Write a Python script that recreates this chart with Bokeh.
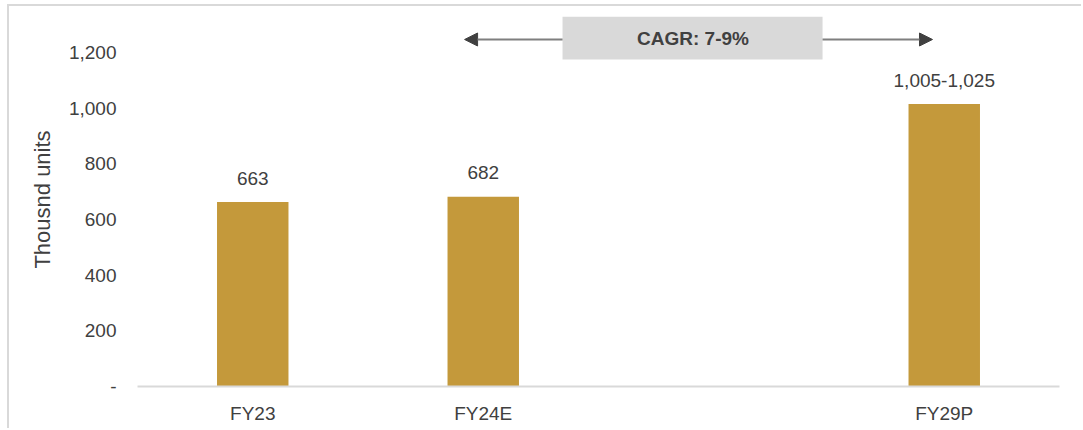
from bokeh.plotting import figure
from bokeh.models import (ColumnDataSource, FactorRange, Range1d, FixedTicker,
                          NumeralTickFormatter, BoxAnnotation, Label, Arrow, NormalHead)
from bokeh.core.properties import value
from bokeh.embed import file_html
from bokeh.resources import INLINE

# ---- data ----
categories = ["FY23", "FY24E", " ", "FY29P"]
bar_years = ["FY23", "FY24E", "FY29P"]
bar_values = [663, 682, 1015]
bar_labels = ["663", "682", "1,005-1,025"]
y_ticks = [0, 200, 400, 600, 800, 1000, 1200]
cagr_text = "CAGR: 7-9%"
y_title = "Thousnd units"

FONT = "Liberation Sans"
TXT = "#404040"
GOLD = "#C4993B"
GRAY = "#D9D9D9"

src = ColumnDataSource(dict(x=bar_years, top=bar_values, label=bar_labels))

p = figure(x_range=FactorRange(*categories, range_padding=0),
           y_range=Range1d(0, 1344),
           width=1074, height=424, output_backend="svg", toolbar_location=None,
           min_border_left=128, min_border_right=24, min_border_top=6, min_border_bottom=44)
p.styles = {"margin-left": "7px", "margin-top": "4px",
            "border-top": "2px solid #D9D9D9", "border-left": "2px solid #D9D9D9"}
p.outline_line_color = None
p.xgrid.grid_line_color = None
p.ygrid.grid_line_color = None

p.vbar(x="x", top="top", width=0.31, source=src, fill_color=GOLD, line_color=None)
p.text(x="x", y="top", text="label", source=src, text_align="center",
       text_baseline="middle", y_offset=-24, text_font=value(FONT),
       text_font_size="19px", text_color=TXT)

# axes
xa = p.xaxis[0]
xa.axis_line_color = GRAY
xa.axis_line_width = 2
xa.major_tick_line_color = None
xa.minor_tick_line_color = None
xa.major_tick_out = 0
xa.major_label_standoff = 16
xa.major_label_text_font = FONT
xa.major_label_text_font_size = "19px"
xa.major_label_text_color = TXT

ya = p.yaxis[0]
ya.ticker = FixedTicker(ticks=y_ticks)
ya.formatter = NumeralTickFormatter(format="0,0")
ya.major_label_overrides = {0: "-"}
ya.axis_line_color = None
ya.major_tick_line_color = None
ya.minor_tick_line_color = None
ya.major_tick_out = 0
ya.major_label_standoff = 21
ya.major_label_text_font = FONT
ya.major_label_text_font_size = "19px"
ya.major_label_text_color = TXT
ya.axis_label = y_title
ya.axis_label_text_font = FONT
ya.axis_label_text_font_size = "22px"
ya.axis_label_text_font_style = "normal"
ya.axis_label_text_color = TXT
ya.axis_label_standoff = 11

# CAGR annotation
p.add_layout(BoxAnnotation(left=1.844, right=2.972, bottom=1175, top=1329,
                           fill_color=GRAY, fill_alpha=1, line_color=None))
p.add_layout(Label(x=2.41, y=1250, text=cagr_text, text_align="center",
                   text_baseline="middle", text_font=FONT, text_font_size="19px",
                   text_font_style="bold", text_color=TXT))
for x0, x1 in [(1.844, 1.419), (2.972, 3.449)]:
    p.add_layout(Arrow(x_start=x0, y_start=1247, x_end=x1, y_end=1247,
                       line_color="#7F7F7F", line_width=2,
                       end=NormalHead(size=13, fill_color="#404040", line_color="#404040")))

open("out.html", "w").write(file_html(p, INLINE))
